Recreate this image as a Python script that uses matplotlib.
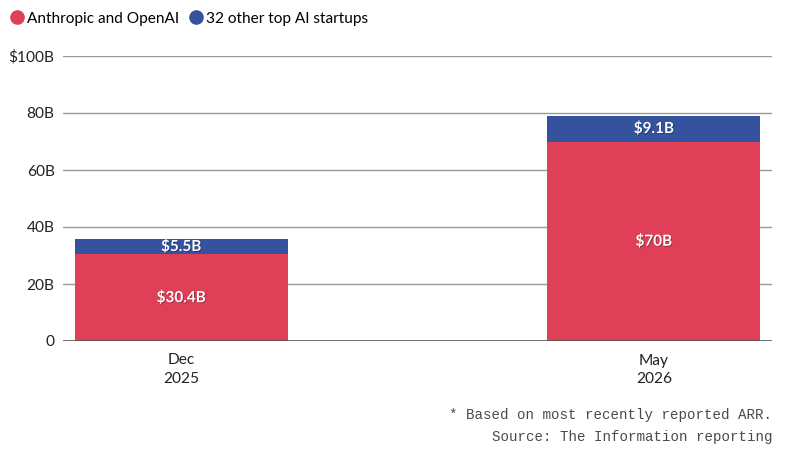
import matplotlib.pyplot as plt
import matplotlib.patheffects as pe
from matplotlib.lines import Line2D

# Data
periods = ["Dec\n2025", "May\n2026"]
big_two = [30.4, 70.0]        # Anthropic and OpenAI, $B
others = [5.5, 9.1]           # 32 other top AI startups, $B
big_two_labels = ["$30.4B", "$70B"]
others_labels = ["$5.5B", "$9.1B"]
yticks = [0, 20, 40, 60, 80, 100]
ytick_labels = ["0", "20B", "40B", "60B", "80B", "$100B"]

RED = "#DF4057"
BLUE = "#34529E"
FONT = "Lato"

fig = plt.figure(figsize=(7.88, 4.57), dpi=100)
ax = fig.add_axes([63 / 788, 1 - 341 / 457, (772 - 63) / 788, (341 - 56) / 457])

x = list(range(len(periods)))
width = 0.45
ax.bar(x, big_two, width=width, color=RED, zorder=3)
ax.bar(x, others, width=width, bottom=big_two, color=BLUE, zorder=3)

shadow = [pe.withSimplePatchShadow(offset=(0.6, -0.6), shadow_rgbFace="black", alpha=0.35)]
for xi, v, lab in zip(x, big_two, big_two_labels):
    ax.text(xi, v / 2, lab, ha="center", va="center", color="white",
            fontsize=11, fontweight="bold", family=FONT, zorder=4, path_effects=shadow)
for xi, base, v, lab in zip(x, big_two, others, others_labels):
    ax.text(xi, base + v / 2, lab, ha="center", va="center", color="white",
            fontsize=11, fontweight="bold", family=FONT, zorder=4, path_effects=shadow)

ax.set_xlim(-0.25, 1.25)
ax.set_ylim(0, 100)
ax.set_yticks(yticks)
ax.set_yticklabels(ytick_labels, family=FONT, fontsize=11.2, color="#222222")
ax.set_xticks(x)
ax.set_xticklabels(periods, family=FONT, fontsize=11.2, color="#222222", linespacing=1.4)
ax.tick_params(axis="both", length=0)
ax.tick_params(axis="y", pad=6)
ax.tick_params(axis="x", pad=9)

for yv in yticks:
    ax.axhline(yv, color="#555555" if yv == 0 else "#999999",
               linewidth=1.2 if yv == 0 else 1.0, zorder=1 if yv else 5)
for side in ["top", "right", "left", "bottom"]:
    ax.spines[side].set_visible(False)

# Legend across the top
handles = [
    Line2D([], [], marker="o", linestyle="", markersize=9.5, color=RED),
    Line2D([], [], marker="o", linestyle="", markersize=9.5, color=BLUE),
]
fig.legend(handles, ["Anthropic and OpenAI", "32 other top AI startups"],
           loc="upper left", bbox_to_anchor=(0.002, 0.998), ncol=2, frameon=False,
           prop={"family": FONT, "size": 11.1}, handlelength=0.6, handletextpad=0.35,
           columnspacing=0.8, borderaxespad=0.3)

# Footnote
fig.text(772 / 788, 1 - 415 / 457, "* Based on most recently reported ARR.",
         ha="right", va="center", family="Liberation Mono", fontsize=10.2, color="#4a4a4a")
fig.text(772 / 788, 1 - 437 / 457, "Source: The Information reporting",
         ha="right", va="center", family="Liberation Mono", fontsize=10.2, color="#4a4a4a")

fig.savefig("out.png", dpi=100)
